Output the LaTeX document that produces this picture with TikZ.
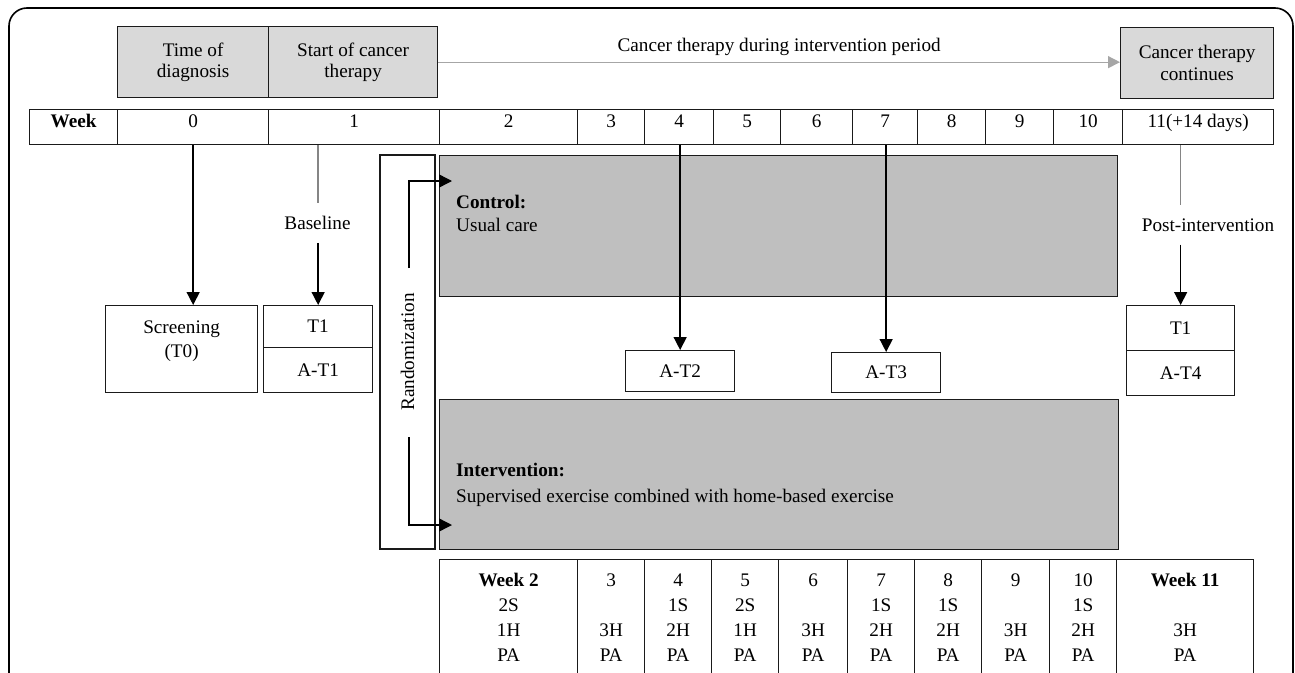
\documentclass[tikz,border=0pt]{standalone}
\usepackage{fontspec}
\setmainfont{Liberation Serif}
\usetikzlibrary{arrows.meta}
\definecolor{hdrgray}{HTML}{D9D9D9}
\definecolor{grpgray}{HTML}{BFBFBF}
\definecolor{linegray}{HTML}{A6A6A6}
\definecolor{framecol}{HTML}{1A1A1A}
\begin{document}
\begin{tikzpicture}[x=1pt,y=-1pt,
  font=\fontsize{19.2}{21.5}\selectfont,
  every node/.style={inner sep=0pt},
  box/.style={draw=framecol, line width=1.3pt, anchor=north west, inner sep=0pt},
  hdr/.style={box, fill=hdrgray, align=center, minimum height=71},
  wcell/.style={box, minimum height=35, text height=18pt, text depth=17pt},
  grp/.style={box, fill=grpgray},
  tcell/.style={box, minimum height=150},
  lbl/.style={inner ysep=13pt},
  conn/.style={line width=1.4pt, draw=black},
  connarrow/.style={conn, -{Triangle[length=13pt,width=13pt]}},
  grayline/.style={line width=1.4pt, draw=linegray!80!black},
  grayarrow/.style={line width=1.3pt, draw=linegray, -{Triangle[length=12pt,width=12pt]}},
  tx/.style={anchor=base}
]
\useasboundingbox (0,0) rectangle (1295,672);
\fill[white] (0,0) rectangle (1295,672);
\clip (0,0) rectangle (1295,672);

% outer frame
\draw[line width=1.6pt, rounded corners=18pt] (9,8) rectangle (1293,720);

% header boxes
\node[hdr, minimum width=151] (hdiag) at (117,26) {Time of\\diagnosis};
\node[hdr, minimum width=169] (hstart) at (268,26) {Start of cancer\\therapy};
\node[hdr, minimum width=153] (hcont) at (1120,27) {Cancer therapy\\continues};
\draw[grayarrow] (hstart.east) -- (hstart.east -| hcont.west)
  node[midway, above, inner sep=6pt] {Cancer therapy during intervention period};

% week row
\node[wcell, minimum width=88] (wkh) at (29,109) {\textbf{Week}};
\node[wcell, minimum width=151] (wk0) at (117,109) {0};
\node[wcell, minimum width=171] (wk1) at (268,109) {1};
\node[wcell, minimum width=138] (wk2) at (439,109) {2};
\node[wcell, minimum width=67] (wk3) at (577,109) {3};
\node[wcell, minimum width=69] (wk4) at (644,109) {4};
\node[wcell, minimum width=67] (wk5) at (713,109) {5};
\node[wcell, minimum width=72] (wk6) at (780,109) {6};
\node[wcell, minimum width=65] (wk7) at (852,109) {7};
\node[wcell, minimum width=68] (wk8) at (917,109) {8};
\node[wcell, minimum width=68] (wk9) at (985,109) {9};
\node[wcell, minimum width=69] (wk10) at (1053,109) {10};
\node[wcell, minimum width=151] (wk11) at (1122,109) {11(+14 days)};

% group boxes
\node[grp, minimum width=678, minimum height=141] (ctrl) at (439,155) {};
\node[tx, anchor=base west] (ctrlt) at (456,208) {\textbf{Control:}};
\node[tx, anchor=base west] (ctrld) at (456,231) {Usual care};
\node[grp, minimum width=679, minimum height=150] (intv) at (439,399) {};
\node[tx, anchor=base west] (intvt) at (456,476) {\textbf{Intervention:}};
\node[tx, anchor=base west] (intvd) at (456,502) {Supervised exercise combined with home-based exercise};

% randomization
\node[draw=framecol, line width=1.3pt, fill=white, rotate=90, minimum width=394, minimum height=55] (rand) at (407.5,352) {Randomization};
\coordinate (rtop) at (409,268);
\coordinate (rtopend) at (452,181);
\coordinate (rbot) at (409,437);
\coordinate (rbotend) at (452,525);
\draw[connarrow] (rtop) |- (rtopend);
\draw[connarrow] (rbot) |- (rbotend);

% screening
\node[box, minimum width=152, minimum height=87] (scr) at (105,305) {};
\node[tx] (scrt) at ([yshift=-28pt]scr.north) {Screening};
\node[tx] (scrt2) at ([yshift=-52pt]scr.north) {(T0)};
\draw[connarrow] (wk0.south) -- (wk0.south |- scr.north);

% baseline T1 / A-T1
\node[box, minimum width=109, minimum height=42] (t1) at (263,305) {T1};
\node[box, minimum width=109, minimum height=45] (at1) at (263,347) {A-T1};
\node[lbl] (base) at (317.5,223) {Baseline};
\draw[grayline] (wk1.south -| t1.north) -- (base.north -| t1.north);
\draw[connarrow] (base.south -| t1.north) -- (t1.north);

% A-T2, A-T3
\node[box, minimum width=109, minimum height=41] (at2) at (625,350) {A-T2};
\draw[connarrow] (wk4.south -| at2.north) -- (at2.north);
\node[box, minimum width=109, minimum height=40] (at3) at (831,352) {A-T3};
\draw[connarrow] (wk7.south -| at3.north) -- (at3.north);

% post-intervention
\node[box, minimum width=108, minimum height=45] (t4a) at (1126,305) {T1};
\node[box, minimum width=108, minimum height=45] (t4b) at (1126,350) {A-T4};
\node[lbl] (post) at (1208,225) {Post-intervention};
\draw[grayline] (wk11.south -| t4a.north) -- (post.north -| t4a.north);
\draw[connarrow] (post.south -| t4a.north) -- (t4a.north);

% bottom table
\foreach \xa/\xb/\name/\la/\lb/\lc/\ld in {
  439/577/b2/\textbf{Week 2}/2S/1H/PA,
  577/644/b3/3//3H/PA,
  644/711/b4/4/1S/2H/PA,
  711/778/b5/5/2S/1H/PA,
  778/847/b6/6//3H/PA,
  847/914/b7/7/1S/2H/PA,
  914/981/b8/8/1S/2H/PA,
  981/1049/b9/9//3H/PA,
  1049/1116/b10/10/1S/2H/PA,
  1116/1253/b11/\textbf{Week 11}//3H/PA}{
  \pgfmathsetmacro{\w}{\xb-\xa}
  \node[tcell, minimum width=\w] (\name) at (\xa,559) {};
  \node[tx] at ([yshift=-27pt]\name.north) {\la};
  \node[tx] at ([yshift=-52pt]\name.north) {\lb};
  \node[tx] at ([yshift=-77pt]\name.north) {\lc};
  \node[tx] at ([yshift=-102pt]\name.north) {\ld};
}
\end{tikzpicture}
\end{document}
